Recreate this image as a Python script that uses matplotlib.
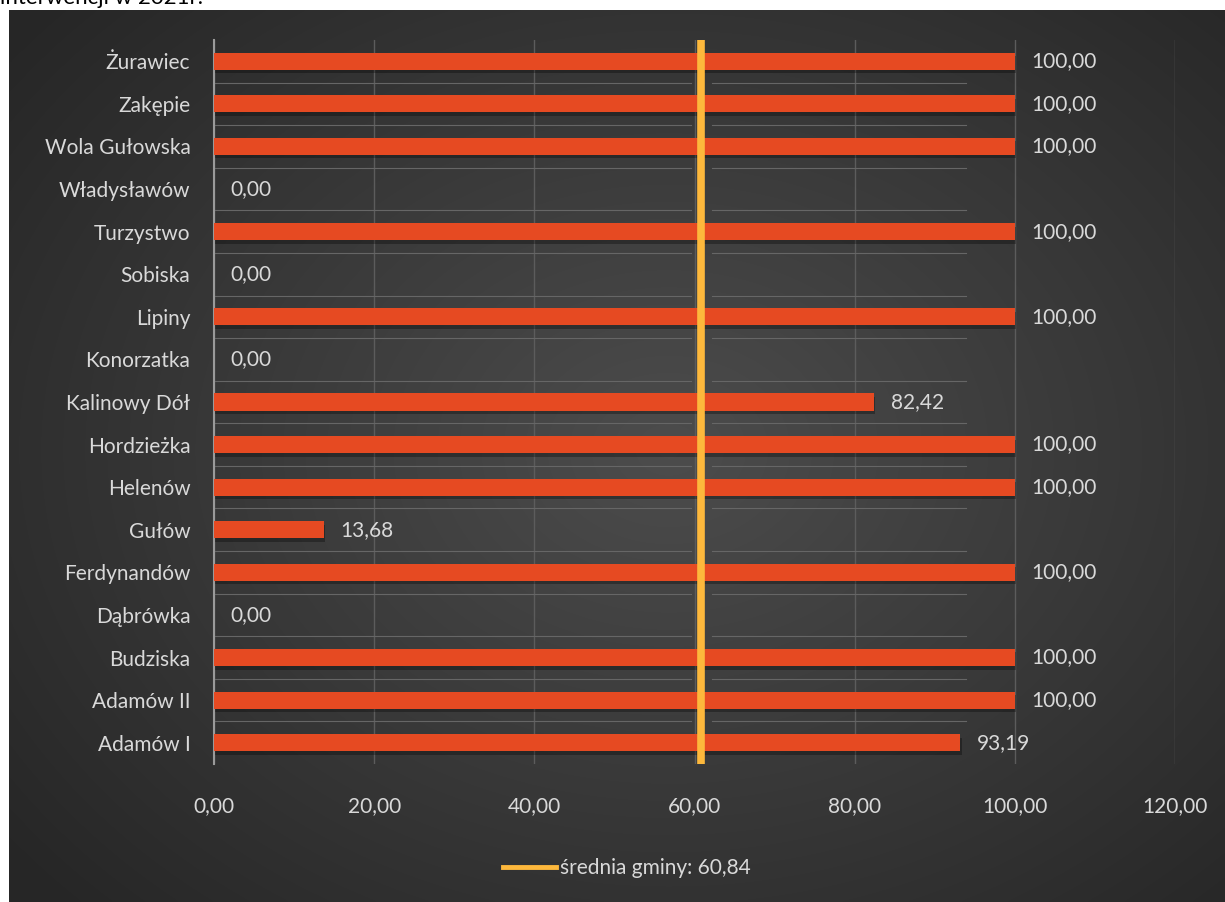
import numpy as np
import matplotlib.pyplot as plt
import matplotlib.patheffects as pe

# sołectwa, od dołu wykresu do góry
villages = ["Adamów I", "Adamów II", "Budziska", "Dąbrówka", "Ferdynandów",
            "Gułów", "Helenów", "Hordzieżka", "Kalinowy Dół", "Konorzatka",
            "Lipiny", "Sobiska", "Turzystwo", "Władysławów", "Wola Gułowska",
            "Zakępie", "Żurawiec"]
values = [93.19, 100.00, 100.00, 0.00, 100.00,
          13.68, 100.00, 100.00, 82.42, 0.00,
          100.00, 0.00, 100.00, 0.00, 100.00,
          100.00, 100.00]
average = 60.84
x_ticks = [0, 20, 40, 60, 80, 100, 120]

plt.rcParams['font.family'] = ['Lato', 'DejaVu Sans']

BAR = "#e64a22"
AVG = "#fdb83c"
TXT = "#d9d9d9"
FS = 15

def pl(v):
    return f"{v:.2f}".replace(".", ",")

fig = plt.figure(figsize=(12.25, 9.02), dpi=100)
fig.patch.set_facecolor("white")

# ciemne tło z gradientem radialnym
W, H = 1225, 902
x0, y0 = 9 / W, 0
bg = fig.add_axes([x0, y0, 1 - x0, 1 - 10 / H], zorder=-10)
gx, gy = np.meshgrid(np.linspace(0, 1216, 600), np.linspace(0, 892, 440))
r = np.sqrt(((gx - 660) / 900) ** 2 + ((gy - 440) / 700) ** 2)
shade = np.clip(0.30 - 0.16 * r, 0.15, 0.30)
bg.imshow(np.dstack([shade] * 3), aspect="auto", extent=[0, 1, 0, 1],
          interpolation="bicubic")
bg.axis("off")

fig.text(0.0, 1 - 4 / H, "interwencji w 2021r.", fontsize=16, color="black",
         va="baseline", ha="left")

ax = fig.add_axes([214 / W, 1 - 764 / H, 961 / W, 724 / H])
ax.set_facecolor("none")

pos = np.arange(len(villages))
shadow = [pe.SimplePatchShadow(offset=(1, -2.5), shadow_rgbFace="black", alpha=0.3),
          pe.Normal()]
bars = ax.barh(pos, values, height=0.4, color=BAR, zorder=3)
for b in bars:
    b.set_path_effects(shadow)

# cienkie linie między wierszami (pozostałości ramek etykiet)
for y in pos[:-1] + 0.5:
    ax.plot([0, 59.6], [y, y], color="#666666", lw=0.8, zorder=2)
    ax.plot([62.2, 93.9], [y, y], color="#666666", lw=0.8, zorder=2)

for p, v in zip(pos, values):
    ax.annotate(pl(v), (v, p), xytext=(12, 0), textcoords="offset points",
                va="center", ha="left", color=TXT, fontsize=FS)

ax.axvline(average, color=AVG, lw=5.5, zorder=4,
           label=f"średnia gminy: {pl(average)}")

ax.set_xlim(0, 120)
ax.set_ylim(-0.5, len(villages) - 0.5)
ax.set_xticks(x_ticks)
ax.set_xticklabels([pl(t) for t in x_ticks])
ax.set_yticks(pos)
ax.set_yticklabels(villages)
ax.tick_params(axis="x", length=0, pad=23, labelcolor=TXT, labelsize=FS)
ax.tick_params(axis="y", length=0, pad=17, labelcolor=TXT, labelsize=FS)
ax.grid(axis="x", color="#5c5c5c", lw=1.0, zorder=1)
ax.set_axisbelow(True)
for s in ["top", "right", "bottom"]:
    ax.spines[s].set_visible(False)
ax.spines["left"].set_color("#9a9a9a")
ax.spines["left"].set_linewidth(1.5)

leg = fig.legend(loc="center", bbox_to_anchor=(627 / W, 1 - 868 / H),
                 frameon=False, fontsize=FS, handlelength=2.5,
                 handletextpad=0.2, labelcolor=TXT)
for h in leg.get_lines():
    h.set_linewidth(3.5)

fig.savefig("out.png", dpi=100, facecolor=fig.get_facecolor())
